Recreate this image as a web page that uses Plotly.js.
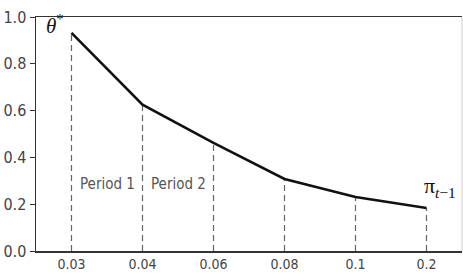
<!DOCTYPE html>
<html>
<head>
<meta charset="utf-8">
<script src="https://cdn.plot.ly/plotly-3.0.1.min.js"></script>
<style>
html,body{margin:0;padding:0;background:#fff;}
#chart{width:463px;height:273px;}
#chart text {font-stretch: condensed;}
</style>
</head>
<body>
<div id="chart"></div>
<script>
var categories = ["0.03", "0.04", "0.06", "0.08", "0.1", "0.2"];
var thetaValues = [0.932, 0.625, 0.462, 0.308, 0.231, 0.184];
var yTicks = [0, 0.2, 0.4, 0.6, 0.8, 1.0];
var yTickLabels = ["0.0", "0.2", "0.4", "0.6", "0.8", "1.0"];
var periodLabels = ["Period 1", "Period 2"];

var yTickFont = {family: "DejaVu Sans Condensed, Liberation Sans Narrow, DejaVu Sans, sans-serif", size: 16, color: "#444"};
var xTickFont = {family: "DejaVu Sans Condensed, Liberation Sans Narrow, DejaVu Sans, sans-serif", size: 14, color: "#444"};
var periodFont = {family: "DejaVu Sans Condensed, Liberation Sans Narrow, DejaVu Sans, sans-serif", size: 15, color: "#555"};

var traces = [];
categories.forEach(function (c, i) {
  traces.push({
    x: [c, c], y: [0, thetaValues[i]],
    type: "scatter", mode: "lines",
    line: {color: "#666", width: 1.2, dash: "6px,4px"},
    hoverinfo: "skip", showlegend: false
  });
});
traces.push({
  x: categories, y: thetaValues,
  type: "scatter", mode: "lines",
  line: {color: "#111", width: 2.6},
  showlegend: false
});

var annotations = [
  {x: 0, y: thetaValues[0], xref: "x", yref: "y", text: "<i>θ</i><sup>*</sup>", showarrow: false,
   xanchor: "right", yanchor: "middle", xshift: -6, yshift: 8,
   font: {family: "Liberation Serif, DejaVu Serif, serif", size: 21, color: "#111"}},
  {x: 5, y: thetaValues[5], xref: "x", yref: "y", text: "π<sub><i>t</i>−1</sub>", showarrow: false,
   xanchor: "center", yanchor: "bottom", xshift: 13, yshift: 5,
   font: {family: "Liberation Serif, DejaVu Serif, serif", size: 22, color: "#111"}},
  {x: 0.5, y: 0.286, xref: "x", yref: "y", text: periodLabels[0], showarrow: false,
   xanchor: "center", yanchor: "middle", font: periodFont},
  {x: 1.5, y: 0.286, xref: "x", yref: "y", text: periodLabels[1], showarrow: false,
   xanchor: "center", yanchor: "middle", font: periodFont}
];

var layout = {
  width: 463, height: 273,
  margin: {l: 36, r: 1, t: 17, b: 22, pad: 0},
  paper_bgcolor: "#fff", plot_bgcolor: "#fff",
  xaxis: {
    type: "category", categoryorder: "array", categoryarray: categories,
    range: [-0.5, 5.5], showgrid: false, zeroline: false,
    showline: true, linecolor: "#333", linewidth: 1.5, mirror: true,
    ticks: "", tickfont: xTickFont, fixedrange: true
  },
  yaxis: {
    range: [0, 1.0], tickvals: yTicks, ticktext: yTickLabels,
    showgrid: false, zeroline: false,
    showline: true, linecolor: "#333", linewidth: 1.5,
    ticks: "outside", ticklen: 5, tickcolor: "#333", tickwidth: 1,
    tickfont: yTickFont, fixedrange: true
  },
  shapes: [
    {type: "line", xref: "paper", yref: "paper", x0: 1, x1: 1, y0: 0, y1: 1,
     line: {color: "#ccc", width: 1}}
  ],
  annotations: annotations
};

Plotly.newPlot("chart", traces, layout, {displayModeBar: false, staticPlot: true});
</script>
</body>
</html>
